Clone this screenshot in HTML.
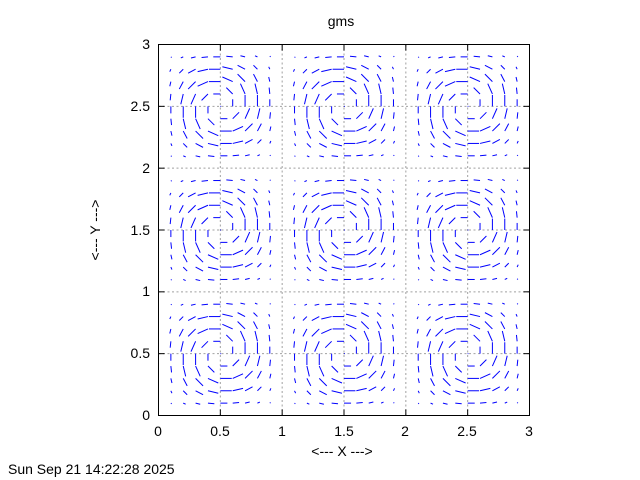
<!DOCTYPE html>
<html><head><meta charset="utf-8"><style>
html,body{margin:0;padding:0;background:#fff;}
svg{display:block;font-family:"Liberation Sans",sans-serif;}
</style></head><body>
<svg id="s" width="640" height="480" xmlns="http://www.w3.org/2000/svg">
<rect width="640" height="480" fill="#fff"/>
<g id="grid" stroke="#a0a0a0" stroke-width="1" stroke-dasharray="2,2.5"></g>
<g id="vec" stroke="#0000ff" stroke-width="1" fill="none"></g>
<rect x="158.5" y="44.5" width="371" height="371" fill="none" stroke="#000" stroke-width="1"/>
<g id="tics" stroke="#000" stroke-width="1"></g>
<g font-size="14" fill="#000">
<text x="341" y="26" text-anchor="middle" font-size="14">gms</text>
<text x="158" y="436" text-anchor="middle">0</text>
<text x="220" y="436" text-anchor="middle">0.5</text>
<text x="282" y="436" text-anchor="middle">1</text>
<text x="344" y="436" text-anchor="middle">1.5</text>
<text x="405" y="436" text-anchor="middle">2</text>
<text x="467" y="436" text-anchor="middle">2.5</text>
<text x="529" y="436" text-anchor="middle">3</text>
<text x="150" y="420" text-anchor="end">0</text>
<text x="150" y="358" text-anchor="end">0.5</text>
<text x="150" y="296" text-anchor="end">1</text>
<text x="150" y="235" text-anchor="end">1.5</text>
<text x="150" y="173" text-anchor="end">2</text>
<text x="150" y="111" text-anchor="end">2.5</text>
<text x="150" y="49" text-anchor="end">3</text>
<text x="342" y="456" text-anchor="middle">&lt;--- X ---&gt;</text>
<text transform="translate(100,230) rotate(-90)" text-anchor="middle">&lt;--- Y ---&gt;</text>
<text x="8" y="474">Sun Sep 21 14:22:28 2025</text>
</g>
</svg>
<script>
(function(){
var NS="http://www.w3.org/2000/svg";
var x0=158.5,y0=415.5,s=371/3;
function L(g,x1,y1,x2,y2){var l=document.createElementNS(NS,"line");l.setAttribute("x1",x1);l.setAttribute("y1",y1);l.setAttribute("x2",x2);l.setAttribute("y2",y2);g.appendChild(l);}
var grid=document.getElementById("grid"),tics=document.getElementById("tics"),vec=document.getElementById("vec");
for(var i=1;i<6;i++){var p=x0+i*0.5*s;L(grid,p,44.5,p,415.5);var q=y0-i*0.5*s;L(grid,158.5,q,529.5,q);}
for(var i=0;i<=6;i++){var p=x0+i*0.5*s;L(tics,p,415.5,p,409.5);L(tics,p,44.5,p,50.5);var q=y0-i*0.5*s;L(tics,158.5,q,164.5,q);L(tics,529.5,q,523.5,q);}
var P=Math.PI,k=12;
for(var cx=0;cx<3;cx++)for(var cy=0;cy<3;cy++)for(var i=1;i<=9;i++)for(var j=1;j<=9;j++){
 var fx=i/10,fy=j/10;
 var sx=Math.sin(P*fx),sy=Math.sin(P*fy);
 var u=sx*sx*Math.sin(2*P*fy), v=-Math.sin(2*P*fx)*sy*sy;
 var px=x0+(cx+fx)*s, py=y0-(cy+fy)*s;
 var ex=px+u*k, ey=py-v*k;
 if(Math.abs(u*k)<0.8&&Math.abs(v*k)<0.8){ex=px+0.8;}
 L(vec,px,py,ex,ey);
}
})();
</script>
</body></html>
